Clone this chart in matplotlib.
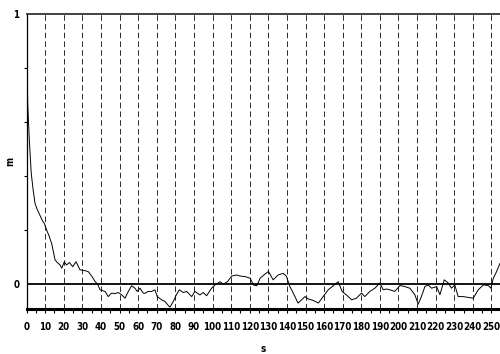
import matplotlib
matplotlib.use("Agg")
import matplotlib.pyplot as plt
from matplotlib.ticker import MultipleLocator, FixedLocator

# --- data ---
s = [0, 0.3, 0.6, 1.0, 1.5, 2.0, 2.5, 3.0, 3.5, 4.5, 5.5, 6.5, 7.5, 8.5, 9.5,
     10.8, 12.0, 13.5, 15.3, 16.5, 18.0, 18.9, 20.3, 21.5, 23.0, 24.8, 26.6,
     28.7, 31.4, 33.2, 35.0, 36.8, 38.2, 39.5, 42.2, 43.9, 45.7, 47.5, 49.3,
     51.1, 52.9, 54.7, 56.5, 58.3, 59.5, 61.0, 62.7, 63.7, 65.4, 67.2, 69.0,
     70.3, 72.6, 74.4, 76.7, 77.1, 78.9, 80.5, 82.1, 84.3, 86.1, 88.8, 90.5,
     93.2, 95.0, 96.8, 99.5, 101.3, 104.0, 105.8, 108.0, 110.3, 113.0, 114.8,
     117.5, 120.2, 122.0, 123.8, 125.6, 128.3, 130.1, 132.6, 135.3, 138.0,
     139.7, 141.6, 143.4, 146.0, 147.9, 149.7, 151.5, 154.1, 156.9, 159.5,
     162.2, 164.9, 167.6, 169.7, 172.0, 174.8, 177.4, 180.1, 181.9, 184.6,
     187.3, 190.0, 191.8, 193.5, 195.4, 198.0, 200.8, 203.4, 206.1, 208.8,
     210.6, 212.4, 214.2, 216.0, 217.8, 220.5, 222.3, 224.6, 226.8, 228.5,
     230.3, 232.1, 234.8, 237.5, 240.2, 242.9, 245.6, 248.3, 249.7, 251.0,
     252.8, 254.6]
m = [0.89, 0.78, 0.67, 0.60, 0.53, 0.47, 0.41, 0.38, 0.35, 0.30, 0.28, 0.265,
     0.25, 0.235, 0.225, 0.20, 0.18, 0.15, 0.09, 0.08, 0.071, 0.059, 0.083,
     0.071, 0.08, 0.065, 0.083, 0.053, 0.05, 0.046, 0.03, 0.01, 0.0, -0.021,
     -0.027, -0.046, -0.033, -0.035, -0.031, -0.039, -0.052, -0.027, -0.006,
     -0.015, -0.027, -0.015, -0.033, -0.034, -0.027, -0.027, -0.021, -0.046,
     -0.058, -0.064, -0.083, -0.085, -0.064, -0.04, -0.021, -0.031, -0.027,
     -0.046, -0.027, -0.04, -0.031, -0.043, -0.015, -0.003, 0.009, 0.0, 0.009,
     0.03, 0.034, 0.03, 0.028, 0.022, -0.003, -0.006, 0.022, 0.038, 0.047,
     0.016, 0.034, 0.04, 0.03, -0.009, -0.033, -0.07, -0.058, -0.046, -0.055,
     -0.06, -0.07, -0.046, -0.021, -0.006, 0.009, -0.027, -0.04, -0.058,
     -0.052, -0.033, -0.046, -0.027, -0.015, 0.004, -0.021, -0.018, -0.021,
     -0.027, -0.005, -0.009, -0.015, -0.039, -0.074, -0.045, -0.009, -0.003,
     -0.015, -0.009, -0.039, 0.016, 0.004, -0.015, -0.003, -0.046, -0.046,
     -0.049, -0.052, -0.021, -0.003, -0.005, -0.015, 0.022, 0.047, 0.077]

xticks = list(range(0, 251, 10))
yticks = [0, 1]

tick_font = dict(family="DejaVu Sans", stretch="condensed",
                 weight="bold", size=7)

plt.rcParams["lines.scale_dashes"] = False

fig = plt.figure(figsize=(5, 3.54), dpi=100)
ax = fig.add_axes([0.0532, 0.1271, 0.9468, 0.8333])

# dashed verticals
for x in xticks[1:]:
    ax.axvline(x, color="#2a2a2a", lw=0.7, ls=(0, (4, 2.3)), zorder=1)
ax.axhline(0, color="black", lw=1.3, zorder=2)
ax.plot(s, m, color="black", lw=0.7, zorder=3)

ax.set_xlim(0, 254.6)
ax.set_ylim(-0.092, 1.0)

ax.spines["right"].set_visible(False)
ax.spines["top"].set_color("#333333")
ax.spines["top"].set_linewidth(1.3)
ax.spines["bottom"].set_linewidth(2.2)
ax.spines["left"].set_linewidth(0.9)

ax.xaxis.set_major_locator(FixedLocator(xticks))
ax.xaxis.set_minor_locator(MultipleLocator(5))
ax.yaxis.set_major_locator(FixedLocator(yticks))
ax.yaxis.set_minor_locator(FixedLocator([0.2, 0.4, 0.6, 0.8]))
ax.tick_params(axis="x", which="both", length=3, width=0.8, pad=6)
ax.tick_params(axis="y", which="major", length=0, pad=5)
ax.tick_params(axis="y", which="minor", length=2, width=0.8)
ax.set_xticklabels([str(v) for v in xticks], fontdict=tick_font)
ax.set_yticklabels([str(v) for v in yticks], fontdict=tick_font)

ax.set_xlabel("s", fontdict=tick_font)
ax.xaxis.set_label_coords(0.5, -0.118)
ax.set_ylabel("m", fontdict=tick_font)
ax.yaxis.set_label_coords(-0.025, 0.5)

fig.savefig("out.png", dpi=100)
